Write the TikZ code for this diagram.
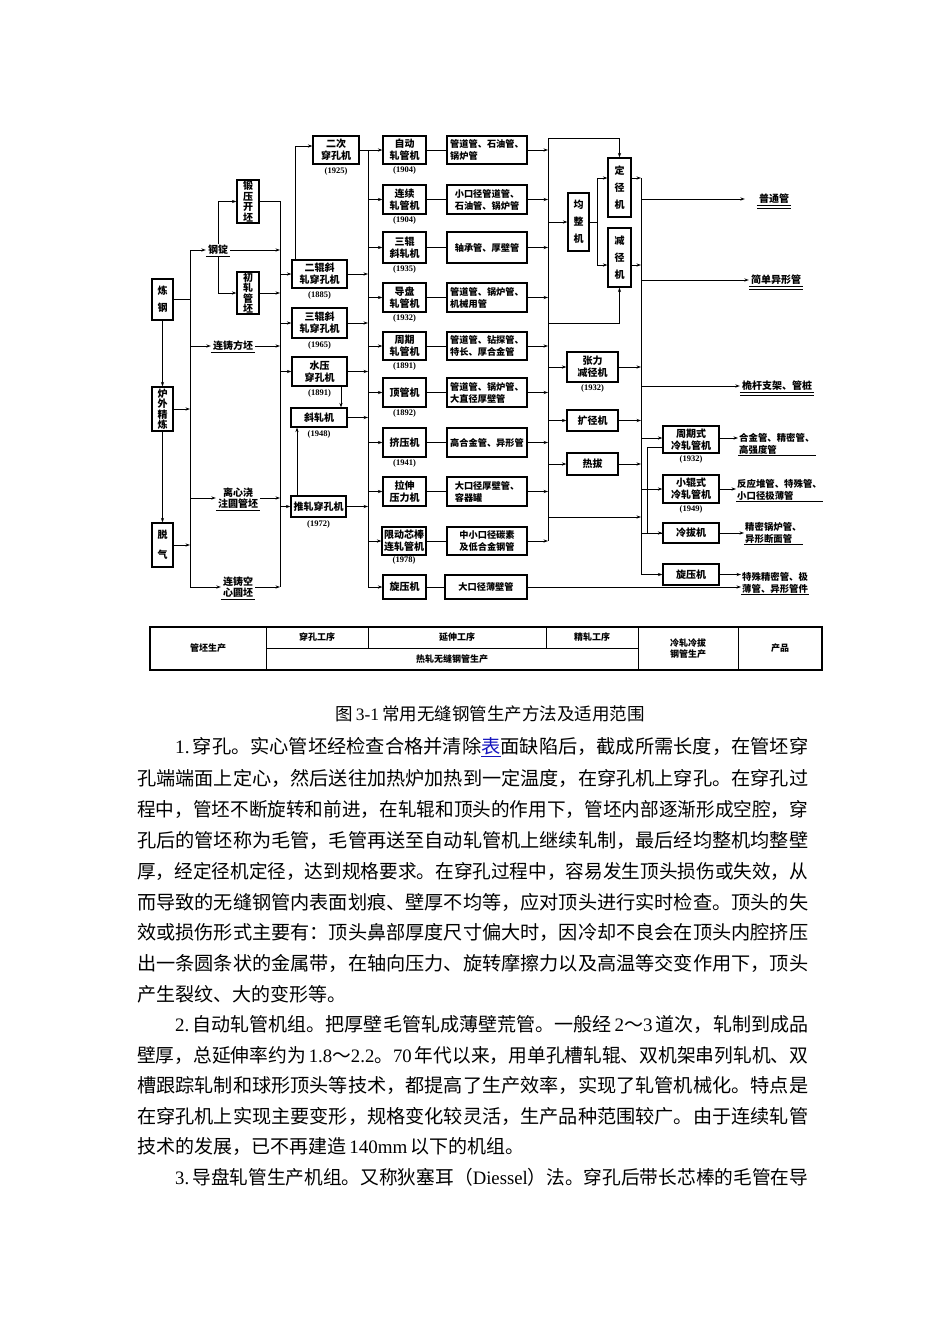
\documentclass[tikz,border=0pt]{standalone}
\usepackage{fontspec}
\usepackage{graphicx}
\setmainfont{Noto Sans CJK SC}
\newfontfamily\lat{Liberation Serif}
\usetikzlibrary{arrows.meta}
\definecolor{linkblue}{RGB}{20,20,190}
\begin{document}
\begin{tikzpicture}[x=1pt,y=-1pt,
  bx/.style={draw, line width=1.2pt, inner sep=0pt, align=center, font=\bfseries\fontsize{10}{12}\selectfont},
  vt/.style={font=\bfseries\fontsize{10}{#1}\selectfont},
  pr/.style={draw, line width=1.2pt, inner sep=0pt, minimum width=80, align=left, font=\bfseries\fontsize{9.2}{12}\selectfont},
  yr/.style={inner sep=0pt, anchor=north, font=\lat\bfseries\fontsize{8.5}{10}\selectfont},
  lbl/.style={inner xsep=2pt, inner ysep=1.5pt, align=center, font=\bfseries\fontsize{10}{11.5}\selectfont},
  outp/.style={inner sep=1pt, align=left, font=\bfseries\fontsize{9.4}{12}\selectfont},
  ln/.style={line width=0.9pt},
  ar/.style={line width=0.9pt, -{Stealth[length=4.5pt,width=3.2pt]}},
  ul/.style={line width=1.2pt},
  dul/.style={double, double distance=2pt, line width=0.6pt},
  tb/.style={inner sep=0pt, align=center, font=\bfseries\fontsize{9}{12}\selectfont},
  body/.style={anchor=west, inner sep=0pt, font=\fontsize{19}{22}\selectfont}
]
\fill[white] (0,0) rectangle (950,1344);
\useasboundingbox (0,0) rectangle (950,1344);

% ---------- column 1
\node[bx, vt=17, minimum width=21, minimum height=41] (lg) at (162.5,299.5) {炼\\钢};
\node[bx, vt=10.5, minimum width=21, minimum height=44] (lw) at (162.5,409) {炉\\外\\精\\炼};
\node[bx, vt=20, minimum width=21, minimum height=44] (tq) at (162.5,545) {脱\\气};
\draw[ar] (lg.south) -- (lw.north);
\draw[ar] (lw.south) -- (tq.north);

\coordinate (b1t) at (190,250);
\coordinate (b2t) at (280,202);

% ---------- column 2
\node[lbl] (gd) at (218,250) {钢锭};
\node[lbl] (lz) at (233,346) {连铸方坯};
\node[lbl] (lx) at (238,498) {离心浇\\注圆管坯};
\node[lbl] (lk) at (238,587) {连铸空\\心圆坯};
\foreach \n in {gd,lz,lx,lk} {\draw[ul] (\n.south west) -- (\n.south east);}

\node[bx, vt=10.5, minimum width=22, minimum height=43] (dy) at (248,201.5) {锻\\压\\开\\坯};
\node[bx, vt=10.5, minimum width=22, minimum height=42] (cz) at (248,293) {初\\轧\\管\\坯};

\draw[ln] (lg.east) -- (lg.east -| b1t);
\draw[ar] (lw.east) -- (lw.east -| b1t);
\draw[ar] (tq.east) -- (tq.east -| b1t);
\draw[ar] (b1t) -- (gd.west);
\draw[ar] (b1t) |- (lk.west);
\draw[ar] (lz.west -| b1t) -- (lz.west);
\draw[ar] (lx.west -| b1t) -- (lx.west);

\draw[ar] (gd.north) |- (dy.west);
\draw[ar] (gd.south) |- (cz.west);
\draw[ln] (dy.east) -| (lk.east -| b2t);
\draw[ar] (gd.east) -- (gd.east -| b2t);
\draw[ar] (cz.east) -- (cz.east -| b2t);
\draw[ar] (lz.east) -- (lz.east -| b2t);
\draw[ar] (lx.east) -- (lx.east -| b2t);
\draw[ar] (lk.east) -- (lk.east -| b2t);

% ---------- column 3 (piercing)
\node[bx, minimum width=46, minimum height=28] (p0) at (336,150) {二次\\穿孔机};
\node[bx, minimum width=55, minimum height=28] (p1) at (319.5,274) {二辊斜\\轧穿孔机};
\node[bx, minimum width=55, minimum height=30] (p2) at (319.5,323) {三辊斜\\轧穿孔机};
\node[bx, minimum width=55, minimum height=29] (p3) at (319.5,371.5) {水压\\穿孔机};
\node[bx, minimum width=56, minimum height=19] (p4) at (319,417.5) {斜轧机};
\node[bx, minimum width=55, minimum height=21] (p5) at (318.5,506.5) {推轧穿孔机};
\node[yr] (y0) at ([yshift=-2.5pt]p0.south) {(1925)};
\node[yr] (y1) at ([yshift=-2.5pt]p1.south) {(1885)};
\node[yr] (y2) at ([yshift=-2.5pt]p2.south) {(1965)};
\node[yr] (y3) at ([yshift=-2.5pt]p3.south) {(1891)};
\node[yr] (y4) at ([yshift=-2.5pt]p4.south) {(1948)};
\node[yr] (y5) at ([yshift=-2.5pt]p5.south) {(1972)};

\foreach \n in {p1,p2,p3,p5} {\draw[ar] (\n.west -| b2t) -- (\n.west);}
\draw[ar] ([xshift=-24.5pt]p1.north) |- ([yshift=4pt]p0.west);
\draw[ar] ([xshift=21.5pt]p3.south) -- ([xshift=21.5pt]p3.south |- p4.north);
\draw[ar] ([xshift=-21.5pt]p5.north) -- ([xshift=-21.5pt]p5.north |- p4.south);

\coordinate (b3t) at (368,150);
\coordinate (b3b) at (368,587);
\draw[ln] (b3t) -- (b3b);
\draw[ln] (p0.east) -- (p0.east -| b3t);
\foreach \n in {p1,p2,p3,p4,p5} {\draw[ar] (\n.east) -- (\n.east -| b3t);}

% ---------- column 4 (elongation)
\node[bx, minimum width=43, minimum height=28] (m1) at (404.5,150) {自动\\轧管机};
\node[bx, minimum width=43, minimum height=29] (m2) at (404.5,199.5) {连续\\轧管机};
\node[bx, minimum width=43, minimum height=31] (m3) at (404.5,247.5) {三辊\\斜轧机};
\node[bx, minimum width=43, minimum height=29] (m4) at (404.5,297.5) {导盘\\轧管机};
\node[bx, minimum width=43, minimum height=28] (m5) at (404.5,346) {周期\\轧管机};
\node[bx, minimum width=43, minimum height=29] (m6) at (404.5,392.5) {顶管机};
\node[bx, minimum width=43, minimum height=29] (m7) at (404.5,442.5) {挤压机};
\node[bx, minimum width=43, minimum height=29] (m8) at (404.5,491.5) {拉伸\\压力机};
\node[bx, minimum width=44, minimum height=28] (m9) at (404,541) {限动芯棒\\连轧管机};
\node[bx, minimum width=43, minimum height=24] (m10) at (404.5,587) {旋压机};
\node[yr] (z1) at ([yshift=-2pt]m1.south) {(1904)};
\node[yr] (z2) at ([yshift=-2pt]m2.south) {(1904)};
\node[yr] (z3) at ([yshift=-2pt]m3.south) {(1935)};
\node[yr] (z4) at ([yshift=-2pt]m4.south) {(1932)};
\node[yr] (z5) at ([yshift=-2pt]m5.south) {(1891)};
\node[yr] (z6) at ([yshift=-2pt]m6.south) {(1892)};
\node[yr] (z7) at ([yshift=-2pt]m7.south) {(1941)};
\node[yr] (z9) at ([yshift=-1pt]m9.south) {(1978)};
\foreach \n in {m1,m2,m3,m4,m5,m6,m7,m8,m9,m10} {\draw[ar] (\n.west -| b3t) -- (\n.west);}

% ---------- column 5 (products of hot rolling)
\node[pr, minimum height=28] (q1) at (487,150) {管道管、石油管、\\锅炉管};
\node[pr, minimum height=29] (q2) at (487,199.5) {小口径管道管、\\石油管、锅炉管};
\node[pr, minimum height=31, align=center] (q3) at (487,247.5) {轴承管、厚壁管};
\node[pr, minimum height=29] (q4) at (487,297.5) {管道管、锅炉管、\\机械用管};
\node[pr, minimum height=28] (q5) at (487,346) {管道管、钻探管、\\特长、厚合金管};
\node[pr, minimum height=29] (q6) at (487,392.5) {管道管、锅炉管、\\大直径厚壁管};
\node[pr, minimum height=29, align=center] (q7) at (487,442.5) {高合金管、异形管};
\node[pr, minimum height=29] (q8) at (487,491.5) {大口径厚壁管、\\容器罐};
\node[pr, minimum height=28, align=center] (q9) at (487,541) {中小口径碳素\\及低合金钢管};
\node[pr, minimum height=24, minimum width=82, align=center] (q10) at (486,587) {大口径薄壁管};
\foreach \i in {1,...,10} {\draw[ln] (m\i.east) -- (q\i.west);}

\coordinate (b4t) at (548,138);
\foreach \i in {1,...,9} {\draw[ar] (q\i.east) -- (q\i.east -| b4t);}

% ---------- finishing
\node[bx, vt=17, minimum width=23, minimum height=59] (dj) at (619.5,187.5) {定\\径\\机};
\node[bx, vt=17, minimum width=23, minimum height=59] (jj) at (619.5,257.5) {减\\径\\机};
\node[bx, vt=17, minimum width=21, minimum height=58] (jz) at (578.5,222) {均\\整\\机};
\draw[ar] (q9.east -| b4t) -- (b4t) -| (dj.north);
\draw[ar] (jz.west -| b4t) -- (jz.west);
\coordinate (jzs) at (597,222);
\draw[ln] (jz.east) -- (jzs);
\draw[ar] (jzs) |- ([yshift=9.5pt]dj.west);
\draw[ar] (jzs) |- ([yshift=-7.5pt]jj.west);
\coordinate (c323) at (548,323);
\draw[ar] (c323) -| (jj.south);

\node[bx, minimum width=51, minimum height=30] (zl) at (592.5,367) {张力\\减径机};
\node[yr] (yz) at ([yshift=-2pt]zl.south) {(1932)};
\node[bx, minimum width=51, minimum height=21] (kj) at (592.5,420.5) {扩径机};
\node[bx, minimum width=51, minimum height=22] (rb) at (592.5,464) {热拔};

\coordinate (b5t) at (641,178);
\draw[ar] ([yshift=9.5pt]dj.east) -- ([yshift=9.5pt]dj.east -| b5t);
\draw[ar] ([yshift=-7.5pt]jj.east) -- ([yshift=-7.5pt]jj.east -| b5t);
\foreach \n in {zl,kj,rb} {\draw[ar] (\n.west -| b4t) -- (\n.west); \draw[ar] (\n.east) -- (\n.east -| b5t);}
\coordinate (c517) at (548,517);
\draw[ar] (c517) -- (c517 -| b5t);

% products
\node[lbl, font=\bfseries\fontsize{10}{12}\selectfont] (pt) at (774,199) {普通管};
\node[lbl, font=\bfseries\fontsize{10}{12}\selectfont] (jd) at (776,280) {简单异形管};
\node[lbl, font=\bfseries\fontsize{10}{12}\selectfont] (wg) at (777,386) {桅杆支架、管桩};
\foreach \n in {pt,jd,wg} {\draw[dul] ([yshift=-1.5pt]\n.south west) -- ([yshift=-1.5pt]\n.south east);}
\draw[ar] (pt.west -| b5t) -- ([xshift=-12pt]pt.west);
\draw[ar] (jd.west -| b5t) -- (jd.west);
\draw[ar] (wg.west -| b5t) -- (wg.west);

% ---------- cold rolling
\node[bx, minimum width=56, minimum height=27] (zq) at (691,439.5) {周期式\\冷轧管机};
\node[bx, minimum width=56, minimum height=28] (xg) at (691,489) {小辊式\\冷轧管机};
\node[bx, minimum width=56, minimum height=20] (lb) at (691,533) {冷拔机};
\node[bx, minimum width=56, minimum height=21] (xy) at (691,574.5) {旋压机};
\node[yr] (yq) at ([yshift=-2pt]zq.south) {(1932)};
\node[yr] (yg) at ([yshift=-2pt]xg.south) {(1949)};

\draw[ar] (b5t) |- (xy.west);
\draw[ar] ([yshift=1.5pt]zq.west -| b5t) -- ([yshift=1.5pt]zq.west);
\draw[ar] (xg.west -| b5t) -- (xg.west);
\draw[ar] (lb.west -| b5t) -- (lb.west);
\draw[ln] ([yshift=-7.5pt]zq.west) -- ++(-15pt,0) |- (lb.west);

\node[outp, anchor=west] (t1) at (738,444) {合金管、精密管、\\高强度管};
\node[outp, anchor=west] (t2) at (736,490) {反应堆管、特殊管、\\小口径极薄管};
\node[outp, anchor=west] (t3) at (744,533) {精密锅炉管、\\异形断面管};
\node[outp, anchor=west] (t4) at (741,583) {特殊精密管、极\\薄管、异形管件};
\foreach \n in {t1,t2,t3,t4} {\draw[dul] ([yshift=-1pt]\n.south west) -- ([yshift=-1pt]\n.south east);}
\draw[ar] ([yshift=1.5pt]zq.east) -- ([yshift=1.5pt]zq.east -| t1.west);
\draw[ar] (xg.east) -- (xg.east -| t2.west);
\draw[ar] (lb.east) -- (lb.east -| t3.west);
\draw[ar] (xy.east) -- (xy.east -| t4.west);
\draw[ar] (q10.east) -- (q10.east -| t4.west);

% ---------- table
\draw[line width=1.3pt] (150,627) rectangle (822,670);
\draw[line width=1pt] (266,627) -- (266,670) (638,627) -- (638,670) (738,627) -- (738,670)
  (266,648) -- (638,648) (368,627) -- (368,648) (546,627) -- (546,648);
\node[tb] (c1) at (208,648.5) {管坯生产};
\node[tb] (c2) at (317,637.5) {穿孔工序};
\node[tb] (c3) at (457,637.5) {延伸工序};
\node[tb] (c4) at (592,637.5) {精轧工序};
\node[tb] (c5) at (452,659) {热轧无缝钢管生产};
\node[tb, font=\bfseries\fontsize{9}{11}\selectfont] (c6) at (688,648.5) {冷轧冷拔\\钢管生产};
\node[tb] (c7) at (780,648.5) {产品};

% ---------- caption and text
\node[inner sep=0pt, font=\fontsize{17.5}{20}\selectfont] (cap) at (490,714) {图\,{\lat 3-1}\,常用无缝钢管生产方法及适用范围};

\node[body] (a1) at (175,747) {\resizebox{633pt}{\height}{{\lat 1.}\,穿孔。实心管坯经检查合格并清除\textcolor{linkblue}{\underline{表}}面缺陷后，截成所需长度，在管坯穿}};
\node[body] (a2) at (137,778) {\resizebox{671pt}{\height}{孔端端面上定心，然后送往加热炉加热到一定温度，在穿孔机上穿孔。在穿孔过}};
\node[body] (a3) at (137,809) {\resizebox{671pt}{\height}{程中，管坯不断旋转和前进，在轧辊和顶头的作用下，管坯内部逐渐形成空腔，穿}};
\node[body] (a4) at (137,840) {\resizebox{671pt}{\height}{孔后的管坯称为毛管，毛管再送至自动轧管机上继续轧制，最后经均整机均整壁}};
\node[body] (a5) at (137,871) {\resizebox{671pt}{\height}{厚，经定径机定径，达到规格要求。在穿孔过程中，容易发生顶头损伤或失效，从}};
\node[body] (a6) at (137,902) {\resizebox{671pt}{\height}{而导致的无缝钢管内表面划痕、壁厚不均等，应对顶头进行实时检查。顶头的失}};
\node[body] (a7) at (137,932.5) {\resizebox{671pt}{\height}{效或损伤形式主要有：顶头鼻部厚度尺寸偏大时，因冷却不良会在顶头内腔挤压}};
\node[body] (a8) at (137,963) {\resizebox{671pt}{\height}{出一条圆条状的金属带，在轴向压力、旋转摩擦力以及高温等交变作用下，顶头}};
\node[body] (a9) at (137,993.8) {产生裂纹、大的变形等。};

\node[body] (b1) at (175,1024.4) {\resizebox{633pt}{\height}{{\lat 2.}\,自动轧管机组。把厚壁毛管轧成薄壁荒管。一般经\,{\lat 2}～{\lat 3}\,道次，轧制到成品}};
\node[body] (b2) at (137,1055) {\resizebox{671pt}{\height}{壁厚，总延伸率约为\,{\lat 1.8}～{\lat 2.2}。{\lat 70}\,年代以来，用单孔槽轧辊、双机架串列轧机、双}};
\node[body] (b3) at (137,1085.6) {\resizebox{671pt}{\height}{槽跟踪轧制和球形顶头等技术，都提高了生产效率，实现了轧管机械化。特点是}};
\node[body] (b4) at (137,1116.2) {\resizebox{671pt}{\height}{在穿孔机上实现主要变形，规格变化较灵活，生产品种范围较广。由于连续轧管}};
\node[body] (b5) at (137,1146.8) {技术的发展，已不再建造\,{\lat 140mm}\,以下的机组。};

\node[body] (c1x) at (175,1177.4) {\resizebox{633pt}{\height}{{\lat 3.}\,导盘轧管生产机组。又称狄塞耳（{\lat Diessel}）法。穿孔后带长芯棒的毛管在导}};
\end{tikzpicture}
\end{document}
